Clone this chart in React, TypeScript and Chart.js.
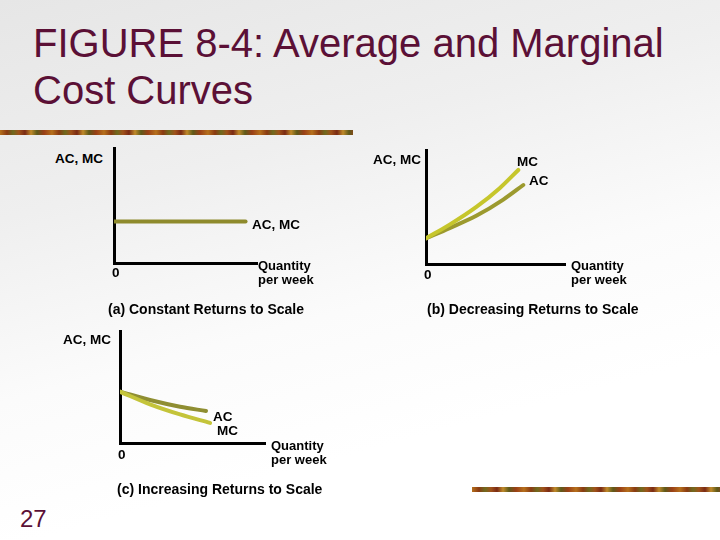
import React, { useEffect, useRef } from "react";
import { Chart, registerables } from "chart.js";

Chart.register(...registerables);

// ---- Data ----
// Panel (a): constant returns to scale
const panelA_X = [0, 92];
const panelA_ACMC = [36, 36];

// Panel (b): decreasing returns to scale
const panelB_MC_X = [0, 17, 36.5, 53, 66.4];
const panelB_MC_Y = [22.5, 34.5, 50.3, 66.5, 82.5];
const panelB_AC_X = [0, 17, 36.5, 55.6, 70];
const panelB_AC_Y = [22.5, 31.5, 42.5, 56.5, 69.3];

// Panel (c): increasing returns to scale
const panelC_AC_X = [0, 20.7, 41.4, 59.3];
const panelC_AC_Y = [45.8, 38.4, 32.4, 28.6];
const panelC_MC_X = [0, 20.7, 41.4, 62.1];
const panelC_MC_Y = [45.8, 34.5, 25.5, 18];

const axisLabel = "AC, MC";
const qtyLabel = ["Quantity", "per week"];
const captions = [
  "(a) Constant Returns to Scale",
  "(b) Decreasing Returns to Scale",
  "(c) Increasing Returns to Scale",
];
const titleLines = ["FIGURE 8-4: Average and Marginal", "Cost Curves"];
const pageNumber = "27";

const P = 8;
const LABEL_FONT = "bold 13.5px 'Liberation Sans', Arial, sans-serif";
const QTY_FONT = "bold 13px 'Liberation Sans', Arial, sans-serif";
const CAPTION_FONT = "bold 14px 'Liberation Sans', Arial, sans-serif";
const MAROON = "#5b1036";

type Series = { xs: number[]; ys: number[]; color: string };

function Panel(props: {
  left: number;
  top: number;
  width: number;
  height: number;
  series: Series[];
}) {
  const ref = useRef<HTMLCanvasElement | null>(null);
  useEffect(() => {
    if (!ref.current) return;
    const axis = {
      type: "linear" as const,
      min: 0,
      max: 100,
      grid: { display: false, drawTicks: false },
      ticks: { display: false },
      border: { display: true, color: "#000", width: 3 },
    };
    const chart = new Chart(ref.current, {
      type: "line",
      data: {
        datasets: props.series.map((s) => ({
          data: s.xs.map((x, i) => ({ x, y: s.ys[i] })),
          borderColor: s.color,
          borderWidth: 4,
          pointRadius: 0,
          fill: false,
          cubicInterpolationMode: "monotone" as const,
          borderCapStyle: "round" as const,
        })),
      },
      options: {
        animation: false,
        responsive: true,
        maintainAspectRatio: false,
        events: [],
        layout: { padding: P },
        plugins: { legend: { display: false }, tooltip: { enabled: false } },
        scales: { x: axis, y: axis },
      },
    });
    return () => chart.destroy();
  }, []);
  return (
    <div
      style={{
        position: "absolute",
        left: props.left - P,
        top: props.top - P,
        width: props.width + 2 * P,
        height: props.height + 2 * P,
      }}
    >
      <canvas ref={ref} />
    </div>
  );
}

function Txt(props: {
  x: number;
  cy: number;
  children: React.ReactNode;
  font?: string;
  color?: string;
  lh?: number;
}) {
  const lh = props.lh ?? 14;
  return (
    <div
      style={{
        position: "absolute",
        left: props.x,
        top: props.cy - lh / 2,
        font: props.font ?? LABEL_FONT,
        lineHeight: lh + "px",
        color: props.color ?? "#000",
        whiteSpace: "nowrap",
      }}
    >
      {props.children}
    </div>
  );
}

function Qty(props: { x: number; cy: number }) {
  return (
    <>
      <Txt x={props.x} cy={props.cy - 0.5} lh={14} font={QTY_FONT}>
        {qtyLabel[0]}
      </Txt>
      <Txt x={props.x} cy={props.cy + 13.5} lh={14} font={QTY_FONT}>
        {qtyLabel[1]}
      </Txt>
    </>
  );
}

const barGradient =
  "repeating-linear-gradient(90deg, #b5701c 0px, #8a3a12 7px, #6f6a1e 13px, #a0521a 19px, #7a2a14 25px, #c08a2a 31px, #5e5a1a 37px, #9a3f16 44px, #b5701c 52px)";

export default function App() {
  return (
    <div
      style={{
        position: "absolute",
        left: 0,
        top: 0,
        width: 720,
        height: 540,
        overflow: "hidden",
        background:
          "linear-gradient(165deg, #e6e6e6 0%, #efefef 30%, #fbfbfb 55%, #ffffff 75%)",
        fontFamily: "'Liberation Sans', Arial, sans-serif",
      }}
    >
      {/* Title */}
      <div
        style={{
          position: "absolute",
          left: 33,
          top: 20,
          font: "40px 'Liberation Sans', Arial, sans-serif",
          lineHeight: "47px",
          color: MAROON,
          whiteSpace: "nowrap",
        }}
      >
        {titleLines[0]}
        <br />
        {titleLines[1]}
      </div>

      {/* decorative bars */}
      <div style={{ position: "absolute", left: 0, top: 130, width: 353, height: 5, background: barGradient }} />
      <div style={{ position: "absolute", left: 472, top: 487, width: 248, height: 5, background: barGradient }} />

      {/* Panel (a) */}
      <Panel
        left={114}
        top={148}
        width={143}
        height={115}
        series={[{ xs: panelA_X, ys: panelA_ACMC, color: "#8e8a2c" }]}
      />
      <Txt x={55} cy={159}>{axisLabel}</Txt>
      <Txt x={252} cy={225}>{axisLabel}</Txt>
      <Txt x={112} cy={273}>0</Txt>
      <Qty x={258} cy={266} />
      <Txt x={108} cy={309} font={CAPTION_FONT}>{captions[0]}</Txt>

      {/* Panel (b) */}
      <Panel
        left={426}
        top={150}
        width={139}
        height={114}
        series={[
          { xs: panelB_MC_X, ys: panelB_MC_Y, color: "#c6c62c" },
          { xs: panelB_AC_X, ys: panelB_AC_Y, color: "#9c9a2e" },
        ]}
      />
      <Txt x={373} cy={160}>{axisLabel}</Txt>
      <Txt x={517} cy={162}>MC</Txt>
      <Txt x={529} cy={181}>AC</Txt>
      <Txt x={424} cy={275}>0</Txt>
      <Qty x={571} cy={266} />
      <Txt x={427} cy={309} font={CAPTION_FONT}>{captions[1]}</Txt>

      {/* Panel (c) */}
      <Panel
        left={120}
        top={331}
        width={145}
        height={112}
        series={[
          { xs: panelC_MC_X, ys: panelC_MC_Y, color: "#c4c43a" },
          { xs: panelC_AC_X, ys: panelC_AC_Y, color: "#8f8e32" },
        ]}
      />
      <Txt x={63} cy={340}>{axisLabel}</Txt>
      <Txt x={213} cy={417}>AC</Txt>
      <Txt x={217} cy={431}>MC</Txt>
      <Txt x={118} cy={455}>0</Txt>
      <Qty x={271} cy={446} />
      <Txt x={117} cy={489} font={CAPTION_FONT}>{captions[2]}</Txt>

      {/* page number */}
      <Txt x={20} cy={519} lh={26} font="24px 'Liberation Sans', Arial, sans-serif" color={MAROON}>
        {pageNumber}
      </Txt>
    </div>
  );
}
